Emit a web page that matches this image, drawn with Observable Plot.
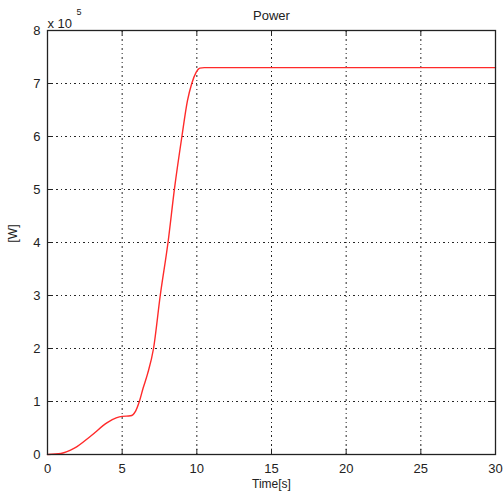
<!DOCTYPE html>
<html>
<head>
<meta charset="utf-8">
<script src="https://cdn.jsdelivr.net/npm/d3@7"></script>
<script src="https://cdn.jsdelivr.net/npm/@observablehq/plot@0.6"></script>
<style>
  html, body { margin: 0; padding: 0; background: #fff; }
  svg { font-family: "Liberation Sans", Arial, sans-serif; }
</style>
</head>
<body>
<div id="chart"></div>
<script>
// Time [s]
const time = [0, 0.9, 1.8, 2.9, 4.0, 4.6, 5.0, 5.55, 5.9, 6.15, 6.4, 6.7, 7.1, 7.55, 8.07, 8.51, 9.0, 9.37, 9.66, 9.95, 10.2, 10.5, 12, 15, 20, 25, 30];
// Power [W] in units of 1e5
const power = [0, 0.02, 0.12, 0.35, 0.60, 0.69, 0.72, 0.73, 0.82, 1.0, 1.25, 1.52, 2.0, 3.0, 4.0, 5.03, 6.0, 6.67, 7.0, 7.21, 7.29, 7.3, 7.3, 7.3, 7.3, 7.3, 7.3];
const xTicks = [0, 5, 10, 15, 20, 25, 30];
const yTicks = [0, 1, 2, 3, 4, 5, 6, 7, 8];
const titleText = "Power";
const xLabel = "Time[s]";
const yLabel = "[W]";

const data = time.map((t, i) => ({t, p: power[i]}));
const grid = "2,3,1,3";
const ink = "#222";

const chart = Plot.plot({
  width: 503,
  height: 498,
  marginLeft: 47,
  marginRight: 8,
  marginTop: 30,
  marginBottom: 44,
  style: {fontFamily: "'Liberation Sans', Arial, sans-serif", fontSize: "13px", color: ink, background: "#fff"},
  x: {domain: [0, 30], ticks: xTicks, label: null},
  y: {domain: [0, 8], ticks: yTicks, label: null},
  marks: [
    Plot.ruleX(xTicks.slice(1, -1), {stroke: "#000", strokeWidth: 1, strokeDasharray: grid, strokeOpacity: 0.85}),
    Plot.ruleY(yTicks.slice(1, -1), {stroke: "#000", strokeWidth: 1, strokeDasharray: grid, strokeOpacity: 0.85}),
    Plot.axisX({ticks: xTicks, tickSize: 0, tickPadding: 9, fontSize: 13, fill: ink, label: null}),
    Plot.axisY({ticks: yTicks, tickSize: 0, tickPadding: 7, fontSize: 13, fill: ink, label: null}),
    Plot.ruleX(xTicks, {y1: 0, y2: 0.1, stroke: ink}),
    Plot.ruleX(xTicks, {y1: 7.9, y2: 8, stroke: ink}),
    Plot.ruleY(yTicks, {x1: 0, x2: 0.35, stroke: ink}),
    Plot.ruleY(yTicks, {x1: 29.65, x2: 30, stroke: ink}),
    Plot.line(data, {x: "t", y: "p", stroke: "#ff2a2a", strokeWidth: 1.4, curve: "monotone-x"}),
    Plot.frame({stroke: ink, strokeWidth: 1.3}),
    Plot.text([titleText], {frameAnchor: "top", dy: -20, fontSize: 13, fill: ink}),
    Plot.text([xLabel], {frameAnchor: "bottom", dy: 33, fontSize: 12, fill: ink}),
    Plot.text([yLabel], {frameAnchor: "left", dx: -34, rotate: -90, fontSize: 12, fill: ink}),
    Plot.text(["x 10"], {frameAnchor: "top-left", textAnchor: "start", dx: 0, dy: -12, fontSize: 13, fill: ink}),
    Plot.text(["5"], {frameAnchor: "top-left", textAnchor: "start", dx: 29, dy: -22, fontSize: 9, fill: ink})
  ]
});
document.getElementById("chart").appendChild(chart);
</script>
</body>
</html>
